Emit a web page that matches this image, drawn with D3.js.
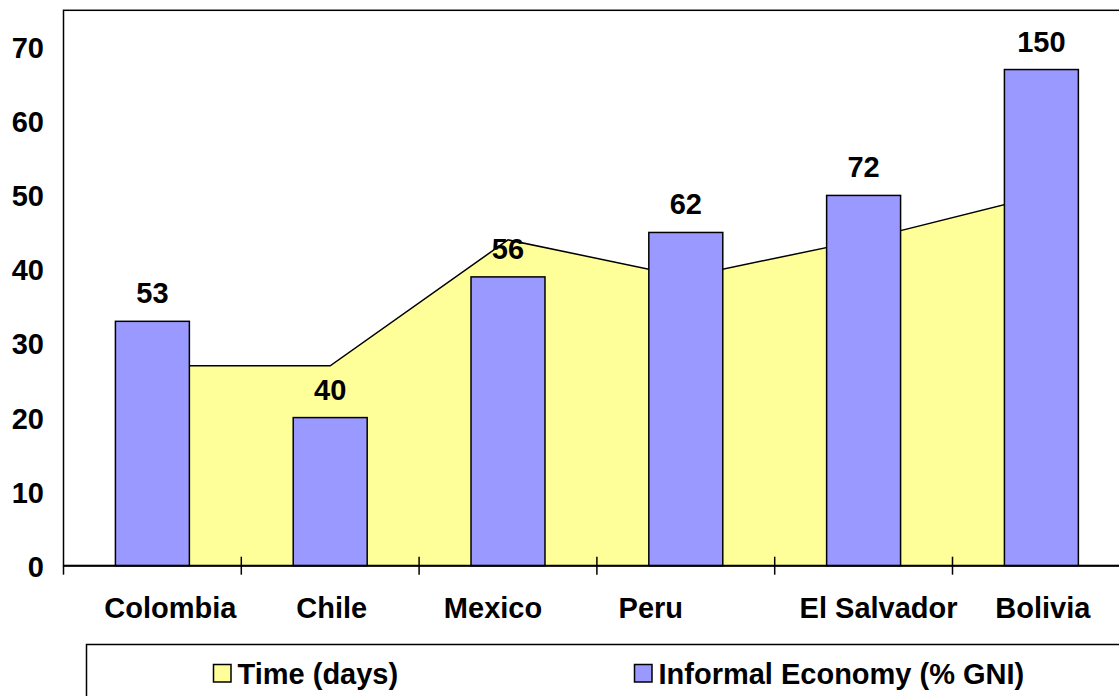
<!DOCTYPE html>
<html>
<head>
<meta charset="utf-8">
<script src="https://cdn.jsdelivr.net/npm/d3@7"></script>
<style>
	body { margin: 0; background: #fff; }
	svg { display: block; }
	text { font-family: 'Liberation Sans', Arial, sans-serif; font-weight: bold; }
</style>
</head>
<body>
<div class="chart"></div>
<script>
// data
const countries = ['Colombia', 'Chile', 'Mexico', 'Peru', 'El Salvador', 'Bolivia']
const timeDays = [27, 27, 44, 39, 44, 50]
const informalEconomy = [33, 20, 39, 45, 50, 67]
const barLabels = ['53', '40', '56', '62', '72', '150']
const yTicks = [0, 10, 20, 30, 40, 50, 60, 70]
const legendItems = ['Time (days)', 'Informal Economy (% GNI)']

const W = 1119
const H = 696
const margin = ({ top: 10.3, left: 63.5, bottom: 130.3 })
const plotBottom = H - margin.bottom
const fontSize = 29
// category labels are not quite centred in the original
const labelNudge = [18, 1.5, -15, -35, 15, 1.5]

const data = countries.map((c, i) => ({
	country: c,
	time: timeDays[i],
	informal: informalEconomy[i],
	label: barLabels[i]
}))

var svg = d3.select('.chart')
	.append('svg')
	.attr('width', W)
	.attr('height', H)

var xScale = d3.scaleBand()
	.domain(countries)
	.range([margin.left, margin.left + 6 * 177.8])

var yScale = d3.scaleLinear()
	.domain([0, 75])
	.range([plotBottom, margin.top])

const barW = xScale.bandwidth() * 0.416
const cx = d => xScale(d.country) + xScale.bandwidth() / 2

// plot frame
svg.append('rect')
	.attr('x', margin.left)
	.attr('y', margin.top)
	.attr('width', 1300)
	.attr('height', plotBottom - margin.top)
	.attr('fill', '#fff')
	.attr('stroke', '#000')
	.attr('stroke-width', 1.5)

// area series
var area = d3.area()
	.x(cx)
	.y0(yScale(0))
	.y1(d => yScale(d.time))

svg.append('path')
	.datum(data)
	.attr('class', 'area')
	.attr('fill', '#FFFF99')
	.attr('d', area)

svg.append('path')
	.datum(data)
	.attr('fill', 'none')
	.attr('stroke', '#000')
	.attr('stroke-width', 1.5)
	.attr('d', d3.line().x(cx).y(d => yScale(d.time)))

// bars
svg.selectAll('.bar')
	.data(data)
	.join('rect')
	.attr('class', 'bar')
	.attr('x', d => cx(d) - barW / 2)
	.attr('y', d => yScale(d.informal))
	.attr('width', barW)
	.attr('height', d => yScale(0) - yScale(d.informal))
	.attr('fill', '#9999FF')
	.attr('stroke', '#000')
	.attr('stroke-width', 1.5)

// value labels
svg.selectAll('.val')
	.data(data)
	.join('text')
	.attr('class', 'val')
	.attr('x', cx)
	.attr('y', d => yScale(d.informal) - 18)
	.attr('text-anchor', 'middle')
	.attr('font-size', fontSize)
	.text(d => d.label)

// x axis line + category ticks
svg.append('line')
	.attr('x1', margin.left)
	.attr('x2', W + 20)
	.attr('y1', yScale(0))
	.attr('y2', yScale(0))
	.attr('stroke', '#000')
	.attr('stroke-width', 2)

svg.selectAll('.ctick')
	.data(countries)
	.join('line')
	.attr('class', 'ctick')
	.attr('x1', d => xScale(d))
	.attr('x2', d => xScale(d))
	.attr('y1', (d, i) => i == 0 ? yScale(0) : yScale(0) - 9)
	.attr('y2', yScale(0) + 9)
	.attr('stroke', '#000')
	.attr('stroke-width', 1.5)

var xAxis = d3.axisBottom(xScale).tickSize(0).tickPadding(0)
var xAxisGroup = svg.append('g')
	.attr('class', 'axis x-axis')
	.attr('transform', `translate(0, ${yScale(0)})`)
	.call(xAxis)
xAxisGroup.select('.domain').remove()
xAxisGroup.selectAll('text')
	.attr('x', (d, i) => labelNudge[i])
	.attr('y', 52)
	.attr('dy', 0)
	.attr('font-size', fontSize)
	.attr('font-family', null)
	.attr('fill', '#000')

var yAxis = d3.axisLeft(yScale).tickValues(yTicks).tickSize(0)
var yAxisGroup = svg.append('g')
	.attr('class', 'axis y-axis')
	.attr('transform', `translate(${margin.left}, 0)`)
	.call(yAxis)
yAxisGroup.select('.domain').remove()
yAxisGroup.selectAll('text')
	.attr('x', -19.5)
	.attr('dy', '0.36em')
	.attr('font-size', fontSize)
	.attr('font-family', null)
	.attr('fill', '#000')

// legend
svg.append('rect')
	.attr('x', 86.5)
	.attr('y', 644.5)
	.attr('width', 1200)
	.attr('height', 200)
	.attr('fill', '#fff')
	.attr('stroke', '#000')
	.attr('stroke-width', 1.5)

const legendX = [213.5, 634.5]
const legendColors = ['#FFFF99', '#9999FF']
var legend = svg.selectAll('.legend')
	.data(legendItems)
	.join('g')
	.attr('class', 'legend')
	.attr('transform', (d, i) => `translate(${legendX[i]}, 664.5)`)

legend.append('rect')
	.attr('width', 17.5)
	.attr('height', 17.5)
	.attr('fill', (d, i) => legendColors[i])
	.attr('stroke', '#000')
	.attr('stroke-width', 1.5)

legend.append('text')
	.attr('x', 24)
	.attr('y', 19.5)
	.attr('font-size', fontSize)
	.text(d => d)
</script>
</body>
</html>
